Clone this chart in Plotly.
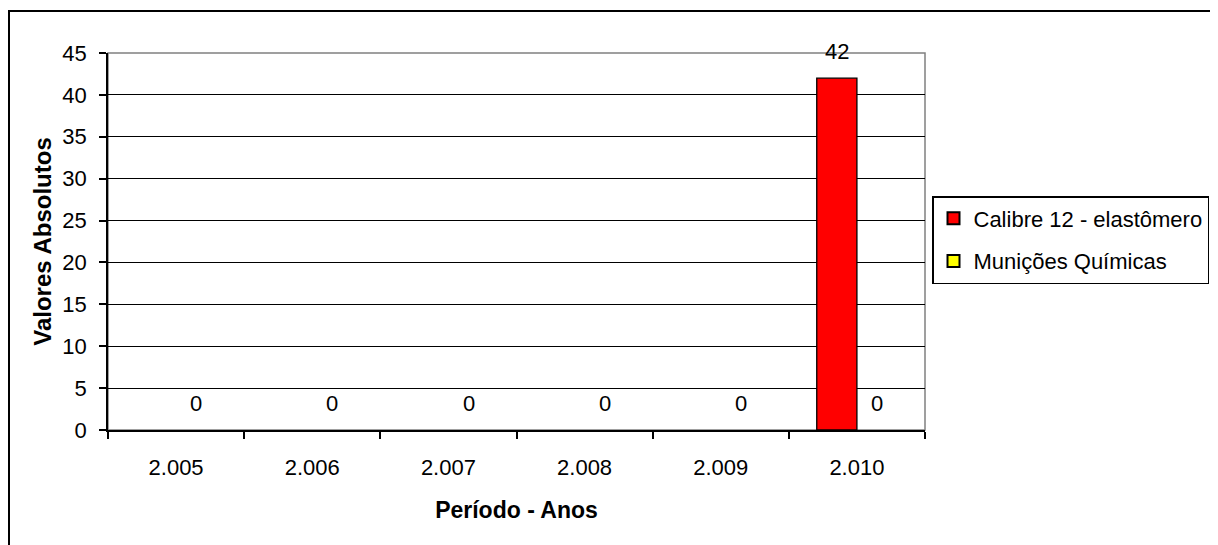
import plotly.graph_objects as go

years = ["2.005", "2.006", "2.007", "2.008", "2.009", "2.010"]
calibre = [0, 0, 0, 0, 0, 42]
municoes = [0, 0, 0, 0, 0, 0]
series_names = ["Calibre 12 - elastômero", "Munições Químicas"]
series_colors = ["#FF0000", "#FFFF00"]
# which value labels are displayed in the original chart
show_labels = [[False, False, False, False, False, True],
               [True, True, True, True, True, True]]

# figure is offset 8px by the page body margin
W, H = 1210, 537
L, R, T, B = 100, 293, 45, 115
BARGAP = 0.41
FONT = "Liberation Sans, Arial, sans-serif"
FS = 22

fig = go.Figure()
for name, vals, col in zip(series_names, [calibre, municoes], series_colors):
    fig.add_trace(go.Bar(
        x=years, y=vals, name=name,
        marker=dict(color=col,
                    line=dict(color="black",
                              width=[1.3 if v > 0 else 0 for v in vals])),
        legendgroup=name,
    ))

plot_w = W - L - R
plot_h = H - T - B
cat_px = plot_w / len(years)
bar_px = cat_px * (1 - BARGAP) / 2
for i, vals in enumerate([calibre, municoes]):
    for j, v in enumerate(vals):
        if show_labels[i][j]:
            fig.add_annotation(
                x=j, y=v, text=str(v), showarrow=False,
                xshift=(i - 0.5) * bar_px, yshift=27,
                font=dict(family=FONT, size=FS, color="black"),
            )

# outer chart border
fig.add_shape(type="rect", xref="paper", yref="paper",
              x0=(1 - L) / plot_w, x1=(1203 - L) / plot_w,
              y0=(H - B - 620) / plot_h, y1=(H - B - 3) / plot_h,
              line=dict(color="black", width=2))
# plot area border (gray)
fig.add_shape(type="rect", xref="paper", yref="paper",
              x0=0, x1=1, y0=0, y1=1, layer="below",
              line=dict(color="#808080", width=1.5))

fig.update_layout(
    width=W, height=H,
    margin=dict(l=L, r=R, t=T, b=B, autoexpand=False),
    paper_bgcolor="white", plot_bgcolor="white",
    barmode="group", bargap=BARGAP, bargroupgap=0,
    font=dict(family=FONT, size=FS, color="black"),
    showlegend=True,
    legend=dict(
        x=(924 - L) / plot_w, xanchor="left",
        y=(H - B - 188) / plot_h, yanchor="top",
        bordercolor="black", borderwidth=1.5,
        bgcolor="white",
        font=dict(family=FONT, size=FS, color="black"),
        traceorder="grouped", tracegroupgap=11,
        itemsizing="constant",
    ),
    xaxis=dict(
        type="category", tickson="boundaries",
        ticks="outside", ticklen=7, tickcolor="black", tickwidth=1.5,
        showline=True, linecolor="black", linewidth=1.5,
        showgrid=False, automargin=False,
        ticklabelstandoff=17,
        tickfont=dict(family=FONT, size=FS),
        title=dict(text="<b>Período - Anos</b>", standoff=23,
                   font=dict(family=FONT, size=23)),
    ),
    yaxis=dict(
        range=[0, 45], dtick=5, tick0=0,
        ticks="outside", ticklen=7, tickcolor="black", tickwidth=1.5,
        showline=True, linecolor="black", linewidth=1.5,
        showgrid=True, gridcolor="black", gridwidth=1.2,
        zeroline=False, automargin=False,
        ticklabelstandoff=8,
        tickfont=dict(family=FONT, size=FS),
        title=dict(text="<b>Valores Absolutos</b>", standoff=4,
                   font=dict(family=FONT, size=24)),
    ),
)

fig.write_html("out.html")
